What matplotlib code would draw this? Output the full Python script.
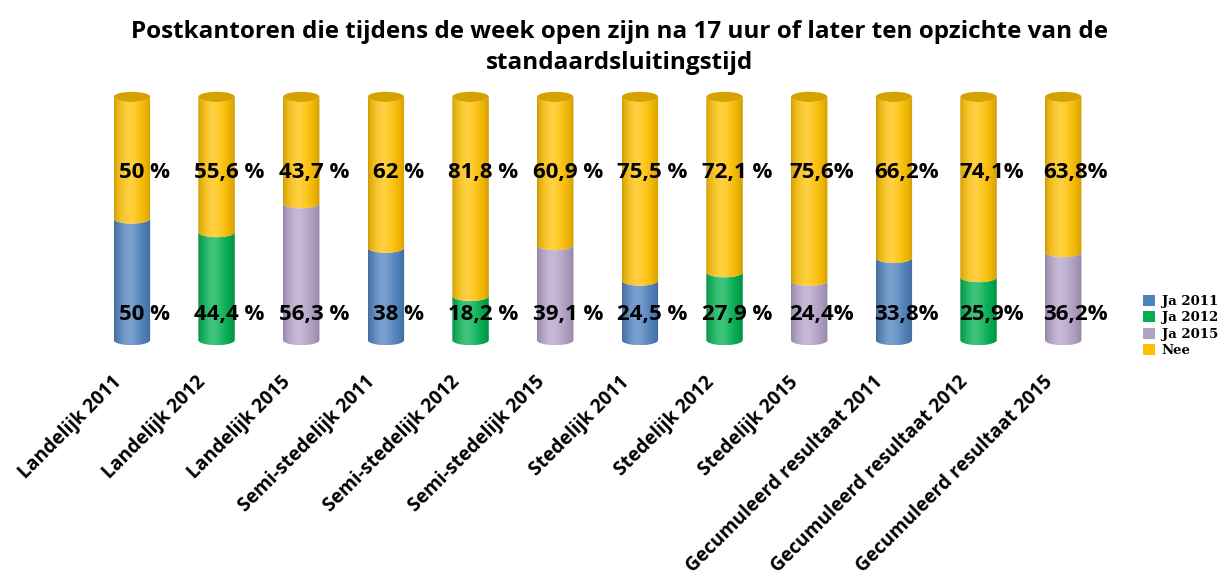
import numpy as np
import matplotlib
matplotlib.use("Agg")
import matplotlib.pyplot as plt
from matplotlib.path import Path
from matplotlib.patches import PathPatch, Ellipse, Patch
from matplotlib.colors import to_rgb
from matplotlib.transforms import ScaledTranslation

categories = ["Landelijk 2011", "Landelijk 2012", "Landelijk 2015",
              "Semi-stedelijk 2011", "Semi-stedelijk 2012", "Semi-stedelijk 2015",
              "Stedelijk 2011", "Stedelijk 2012", "Stedelijk 2015",
              "Gecumuleerd resultaat 2011", "Gecumuleerd resultaat 2012",
              "Gecumuleerd resultaat 2015"]
ja = [50, 44.4, 56.3, 38, 18.2, 39.1, 24.5, 27.9, 24.4, 33.8, 25.9, 36.2]
nee = [50, 55.6, 43.7, 62, 81.8, 60.9, 75.5, 72.1, 75.6, 66.2, 74.1, 63.8]
ja_labels = ["50 %", "44,4 %", "56,3 %", "38 %", "18,2 %", "39,1 %",
             "24,5 %", "27,9 %", "24,4%", "33,8%", "25,9%", "36,2%"]
nee_labels = ["50 %", "55,6 %", "43,7 %", "62 %", "81,8 %", "60,9 %",
              "75,5 %", "72,1 %", "75,6%", "66,2%", "74,1%", "63,8%"]
year_series = ["Ja 2011", "Ja 2012", "Ja 2015"]

colors = {"Ja 2011": "#4F81BD", "Ja 2012": "#00B050", "Ja 2015": "#B3A2C7", "Nee": "#FFC000"}

plt.rcParams["font.family"] = ["Open Sans", "DejaVu Sans"]

fig = plt.figure(figsize=(12.27, 5.78), dpi=100)
ax = fig.add_axes([0.073, 0.399, 0.828, 0.446])
ax.set_xlim(-0.5, len(categories) - 0.5)

width = 0.43
eh = 2.1  # half height of the cylinder ellipses, in data units


def shade_img(color):
    t = np.linspace(0, 1, 64)
    base = np.array(to_rgb(color))
    light = np.exp(-((t - 0.4) / 0.28) ** 2)
    dark = 0.78 + 0.22 * np.sin(np.pi * t) ** 0.5
    rgb = base[None, :] * dark[:, None]
    rgb = rgb + (1 - rgb) * 0.25 * light[:, None]
    return np.clip(rgb[None, :, :], 0, 1)


def cylinder(rect, color, z):
    x0 = rect.get_x()
    w = rect.get_width()
    y0 = rect.get_y()
    y1 = y0 + rect.get_height()
    cx = x0 + w / 2
    th = np.linspace(np.pi, 2 * np.pi, 40)
    top = [(cx + w / 2 * np.cos(a), y1 + eh * np.sin(a)) for a in th]
    bot = [(cx + w / 2 * np.cos(a), y0 + eh * np.sin(a)) for a in th[::-1]]
    verts = top + bot + [top[0]]
    codes = [Path.MOVETO] + [Path.LINETO] * (len(verts) - 2) + [Path.CLOSEPOLY]
    patch = PathPatch(Path(verts, codes), facecolor="none", edgecolor="none", zorder=z)
    ax.add_patch(patch)
    im = ax.imshow(shade_img(color), extent=[x0, x0 + w, y0 - eh, y1 + eh],
                   aspect="auto", zorder=z, interpolation="bilinear")
    im.set_clip_path(patch)
    rect.set_visible(False)


x = np.arange(len(categories))
ja_colors = [colors[year_series[i % 3]] for i in range(len(categories))]
bars_ja = ax.bar(x, ja, width, color=ja_colors)
bars_nee = ax.bar(x, nee, width, bottom=ja, color=colors["Nee"])

for i in range(len(categories)):
    cylinder(bars_ja[i], ja_colors[i], 2)
    cylinder(bars_nee[i], colors["Nee"], 3)
    r = bars_nee[i]
    ax.add_patch(Ellipse((r.get_x() + r.get_width() / 2, r.get_y() + r.get_height()),
                         r.get_width(), 2 * eh, facecolor="#D6A200", edgecolor="none",
                         zorder=4))

ax.set_xlim(-0.5, len(categories) - 0.5)
ax.set_ylim(-3, 103)

for i in range(len(categories)):
    ax.text(x[i] + 0.15, 69, nee_labels[i], ha="center", va="center",
            fontsize=16, fontweight="bold", zorder=6)
    ax.text(x[i] + 0.15, 10.5, ja_labels[i], ha="center", va="center",
            fontsize=16, fontweight="bold", zorder=6)

ax.set_xticks(x)
ax.set_xticklabels(categories, rotation=45, ha="right", rotation_mode="anchor",
                   fontsize=13.8, fontweight="bold")
ax.tick_params(axis="x", length=0, pad=0)
offset = ScaledTranslation(-15 / 72, -18 / 72, fig.dpi_scale_trans)
for lab in ax.get_xticklabels():
    lab.set_transform(lab.get_transform() + offset)
ax.set_yticks([])
for s in ax.spines.values():
    s.set_visible(False)

fig.suptitle("Postkantoren die tijdens de week open zijn na 17 uur of later ten opzichte van de\n"
             "standaardsluitingstijd", fontsize=17.5, fontweight="bold", y=0.965,
             x=0.505, linespacing=1.35)

handles = [Patch(facecolor=colors[k]) for k in ["Ja 2011", "Ja 2012", "Ja 2015", "Nee"]]
fig.legend(handles, ["Ja 2011", "Ja 2012", "Ja 2015", "Nee"], loc="upper left",
           bbox_to_anchor=(0.922, 0.51), frameon=False,
           prop={"family": ["DejaVu Serif"], "weight": "bold", "size": 9.5},
           handlelength=0.9, handleheight=0.9, handletextpad=0.5, labelspacing=0.25)

fig.savefig("out.png", dpi=100)
